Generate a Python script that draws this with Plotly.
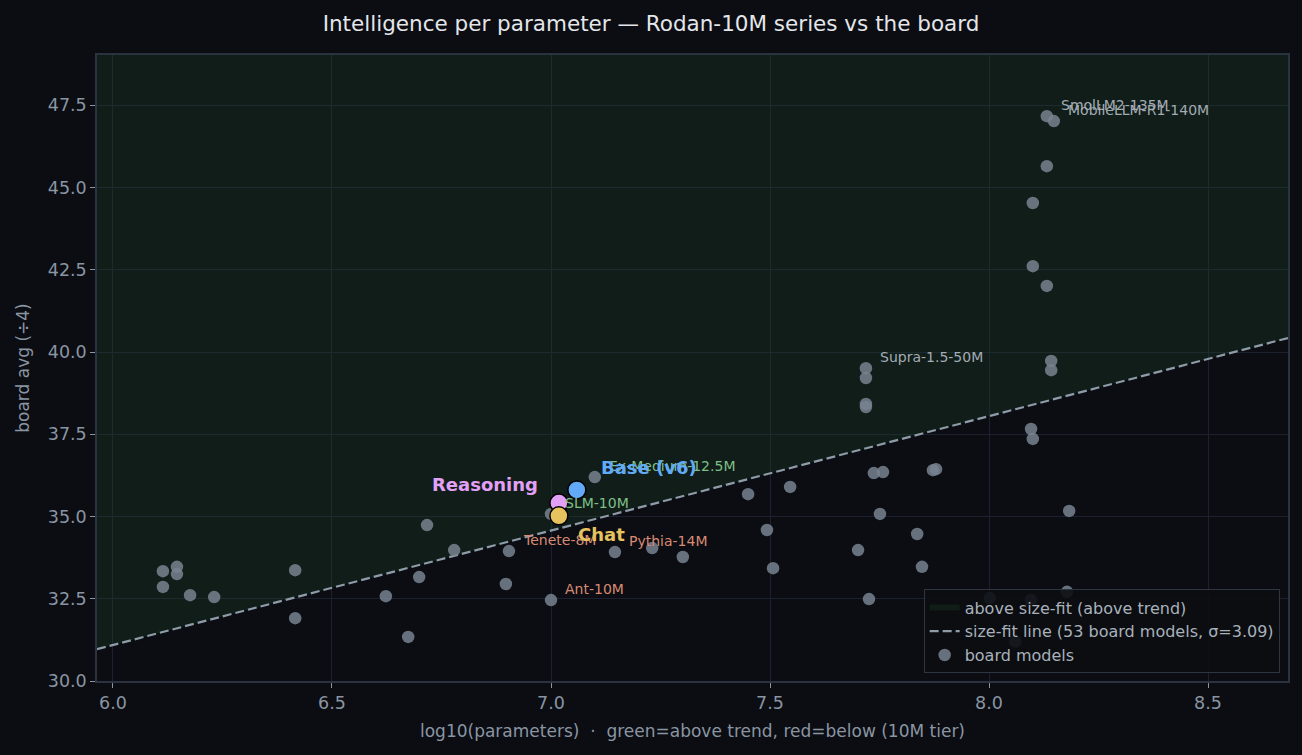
import plotly.graph_objects as go

# board models: log10(params) and board avg
board_x = [6.114, 6.146, 6.146, 6.114, 6.176, 6.231, 6.416, 6.416, 6.623, 6.674,
           6.699, 6.717, 6.779, 6.897, 6.904, 7.000, 7.000, 7.146, 7.100, 7.231,
           7.301, 7.450, 7.493, 7.507, 7.546, 7.701, 7.719, 7.719, 7.719, 7.719,
           7.726, 7.737, 7.758, 7.751, 7.836, 7.847, 7.872, 7.879, 8.002, 8.096,
           8.096, 8.100, 8.100, 8.100, 8.132, 8.132, 8.132, 8.148, 8.142, 8.142,
           8.178, 8.183, 8.060]
board_y = [33.34, 33.47, 33.25, 32.86, 32.61, 32.55, 33.37, 31.91, 32.58, 31.34,
           33.16, 34.74, 33.98, 32.95, 33.95, 32.46, 35.08, 33.92, 36.20, 34.04,
           33.77, 35.68, 34.59, 33.43, 35.90, 33.98, 39.51, 39.21, 38.42, 38.33,
           32.49, 36.32, 36.35, 35.08, 34.47, 33.47, 36.41, 36.44, 32.52, 32.46,
           37.66, 37.36, 44.53, 42.61, 42.01, 45.65, 47.17, 47.02, 39.73, 39.45,
           32.71, 35.17, 31.20]

# labelled board models
label_names = ["SmolLM2-135M", "MobileLLM-R1-140M", "Supra-1.5-50M", "Ex-Medium-12.5M",
               "SLM-10M", "Tenete-8M", "Pythia-14M", "Ant-10M"]
label_x = [8.132, 8.148, 7.719, 7.100, 7.000, 6.904, 7.146, 7.000]
label_y = [47.17, 47.02, 39.51, 36.20, 35.08, 33.95, 33.92, 32.46]
label_kind = ["other", "other", "other", "above", "above", "below", "below", "below"]

# Rodan-10M series
rodan_names = ["Base (v6)", "Reasoning", "Chat"]
rodan_x = [7.059, 7.018, 7.018]
rodan_y = [35.81, 35.41, 35.02]
rodan_colors = ["#62aaf7", "#e2a0f7", "#e6c35e"]

# size-fit line
fit_slope = 3.479
fit_intercept = 10.22
fit_n = 53
fit_sigma = 3.09

x_range = [5.9635, 8.6826]
y_range = [30.0, 49.03]

BG = "#0b0d12"
GRID = "#1b2130"
SPINE = "#2b3240"
TXT = "#8a95a3"
kind_color = {"above": "#7fbf88", "below": "#d98a74", "other": "#a3abb4"}

fit_y = [fit_intercept + fit_slope * x for x in x_range]

fig = go.Figure()

# shaded region above the fit line
fig.add_trace(go.Scatter(
    x=[x_range[0], x_range[1], x_range[1], x_range[0], x_range[0]],
    y=[fit_y[0], fit_y[1], y_range[1], y_range[1], fit_y[0]],
    fill="toself", fillcolor="rgba(32,72,40,0.28)", mode="none",
    name="above size-fit (above trend)", hoverinfo="skip"))

fig.add_trace(go.Scatter(
    x=x_range, y=fit_y, mode="lines",
    line=dict(color="#8e9ba8", width=2.2, dash="9px,4px"),
    name=f"size-fit line ({fit_n} board models, σ={fit_sigma})"))

fig.add_trace(go.Scatter(
    x=board_x, y=board_y, mode="markers",
    marker=dict(size=12.5, color="rgba(120,130,144,0.85)", line=dict(width=0)),
    name="board models"))

for nm, x, y, c in zip(rodan_names, rodan_x, rodan_y, rodan_colors):
    fig.add_trace(go.Scatter(
        x=[x], y=[y], mode="markers", showlegend=False, name=nm,
        marker=dict(size=18, color=c, line=dict(color="#000000", width=1.5))))

for nm, x, y, k in zip(label_names, label_x, label_y, label_kind):
    fig.add_annotation(x=x, y=y, text=nm, showarrow=False, xanchor="left",
                       yanchor="middle", xshift=12, yshift=11,
                       font=dict(size=14, color=kind_color[k]))

# Rodan labels
rodan_label_pos = [("left", 22, 22), ("right", -19, 19), ("left", 17, -19)]
for nm, x, y, c, (anc, dx, dy) in zip(rodan_names, rodan_x, rodan_y, rodan_colors, rodan_label_pos):
    fig.add_annotation(x=x, y=y, text=f"<b>{nm}</b>", showarrow=False, xanchor=anc,
                       yanchor="middle", xshift=dx, yshift=dy,
                       font=dict(size=18, color=c))

fig.update_layout(
    width=1302, height=755,
    paper_bgcolor=BG, plot_bgcolor=BG,
    font=dict(family="DejaVu Sans", color=TXT, size=16),
    margin=dict(l=97, r=14, t=55, b=74),
    title=dict(text="Intelligence per parameter — Rodan-10M series vs the board",
               x=0.5, xanchor="center", y=0.979, yanchor="top",
               font=dict(size=21.5, color="#e4e6ea")),
    legend=dict(x=0.993, y=0.012, xanchor="right", yanchor="bottom",
                bgcolor="rgba(11,13,18,0.9)", bordercolor="#2f3643", borderwidth=1,
                font=dict(size=16, color="#a9b1bb"), tracegroupgap=0),
    showlegend=True,
)
fig.update_xaxes(range=x_range, tickvals=[6.0, 6.5, 7.0, 7.5, 8.0, 8.5], tickformat=".1f",
                 showgrid=True, gridcolor=GRID, zeroline=False,
                 showline=True, linecolor=SPINE, linewidth=1.5, mirror=True,
                 ticks="outside", ticklen=5, tickcolor=TXT, tickfont=dict(size=17.5, color=TXT),
                 title=dict(text="log10(parameters) \u00a0·\u00a0 green=above trend, red=below (10M tier)",
                            font=dict(size=17, color=TXT), standoff=13))
fig.update_yaxes(range=y_range, tickvals=[30.0, 32.5, 35.0, 37.5, 40.0, 42.5, 45.0, 47.5],
                 tickformat=".1f",
                 showgrid=True, gridcolor=GRID, zeroline=False,
                 showline=True, linecolor=SPINE, linewidth=1.5, mirror=True,
                 ticks="outside", ticklen=5, tickcolor=TXT, tickfont=dict(size=17.5, color=TXT),
                 title=dict(text="board avg (÷4)", font=dict(size=17, color=TXT), standoff=14))

# page body: no margin, dark background
fig.write_html("out.html", config={"displayModeBar": False},
               post_script="document.body.style.margin='0';"
                           "document.body.style.background='#0b0d12';")
